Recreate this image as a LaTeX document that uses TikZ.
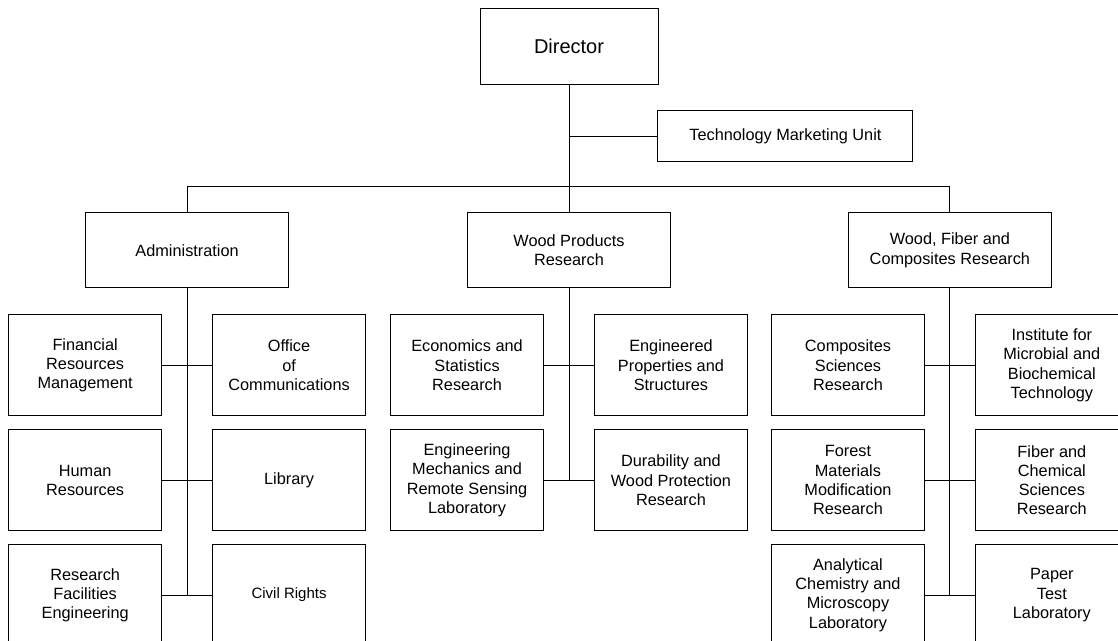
\documentclass[tikz,border=0pt]{standalone}
\usepackage{fontspec}
\setmainfont{Liberation Sans}
\usetikzlibrary{positioning}
\tikzset{
  head/.style={rectangle, draw=black, fill=white, align=center, minimum width=178pt, minimum height=76pt, inner sep=2pt, font=\fontsize{20}{24}\selectfont},
  unit/.style={rectangle, draw=black, fill=white, align=center, minimum width=203pt, minimum height=75pt, inner sep=2pt, font=\fontsize{16.3}{19.3}\selectfont},
  dept/.style={rectangle, draw=black, fill=white, align=center, minimum width=153pt, minimum height=101pt, inner sep=2pt, font=\fontsize{16.3}{19.3}\selectfont},
  link/.style={draw=black, line width=0.9pt},
}

\begin{document}
\begin{tikzpicture}[x=1pt, y=-1pt, line width=0.9pt]
  \useasboundingbox (0,0) rectangle (1118,640);
  \clip (0,0) rectangle (1118,640);
  % top of the chart
  \node[head] (director) at (569,46) {Director};
  \node[unit, minimum width=255pt, minimum height=51pt, below right=26pt and -1pt of director.south east] (tmu) {Technology Marketing Unit};
  \node[unit, below=128pt of director] (wpr) {Wood Products\\Research};
  \node[unit, left=178pt of wpr] (admin) {Administration};
  \node[unit, right=177pt of wpr] (wfc) {Wood, Fiber and\\Composites Research};
  % administration
  \node[dept, below=26pt of admin.south west] (finres) {Financial\\Resources\\Management};
  \node[dept, below=26pt of admin.south east] (offcomm) {Office\\of\\Communications};
  \node[dept, below=13pt of finres] (humres) {Human\\Resources};
  \node[dept, below=13pt of offcomm] (library) {Library};
  \node[dept, below=13pt of humres] (resfac) {Research\\Facilities\\Engineering};
  \node[dept, below=13pt of library, font=\fontsize{15}{18}\selectfont] (civil) {Civil Rights};
  % wood products research
  \node[dept, below=26pt of wpr.south west] (econ) {Economics and\\Statistics\\Research};
  \node[dept, below=26pt of wpr.south east] (engprop) {Engineered\\Properties and\\Structures};
  \node[dept, below=13pt of econ] (engmech) {Engineering\\Mechanics and\\Remote Sensing\\Laboratory};
  \node[dept, below=13pt of engprop] (durab) {Durability and\\Wood Protection\\Research};
  % wood, fiber and composites research
  \node[dept, below=26pt of wfc.south west] (compsci) {Composites\\Sciences\\Research};
  \node[dept, below=26pt of wfc.south east] (imbt) {Institute for\\Microbial and\\Biochemical\\Technology};
  \node[dept, below=13pt of compsci] (forest) {Forest\\Materials\\Modification\\Research};
  \node[dept, below=13pt of imbt] (fiber) {Fiber and\\Chemical\\Sciences\\Research};
  \node[dept, below=13pt of forest] (analyt) {Analytical\\Chemistry and\\Microscopy\\Laboratory};
  \node[dept, below=13pt of fiber] (paper) {Paper\\Test\\Laboratory};
  % connectors
  \draw[link] (director.south) -- (wpr.north);
  \draw[link] (director.south |- tmu.west) -- (tmu.west);
  \draw[link] (admin.north) |- ([yshift=26pt]wpr.north) -| (wfc.north);
  \draw[link] (admin.south) -- (admin.south |- resfac.east);
  \draw[link] (wpr.south) -- (wpr.south |- engmech.east);
  \draw[link] (wfc.south) -- (wfc.south |- analyt.east);
  \draw[link] (finres.east) -- (offcomm.west);
  \draw[link] (humres.east) -- (library.west);
  \draw[link] (resfac.east) -- (civil.west);
  \draw[link] (econ.east) -- (engprop.west);
  \draw[link] (engmech.east) -- (durab.west);
  \draw[link] (compsci.east) -- (imbt.west);
  \draw[link] (forest.east) -- (fiber.west);
  \draw[link] (analyt.east) -- (paper.west);
\end{tikzpicture}
\end{document}
